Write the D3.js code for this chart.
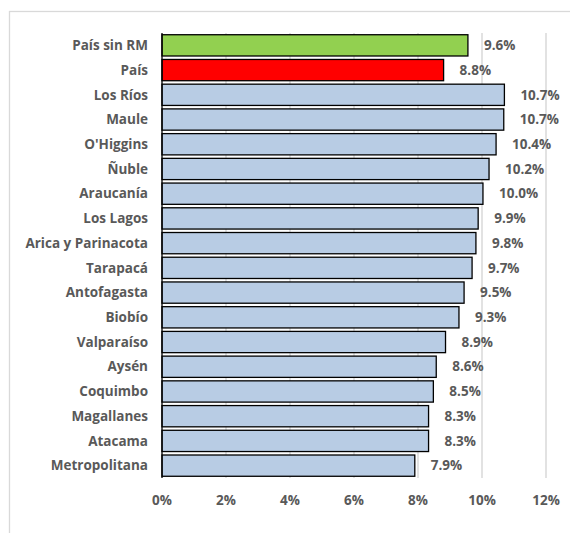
<!DOCTYPE html>
<html><head><meta charset="utf-8">
<script src="https://cdn.jsdelivr.net/npm/d3@7"></script>
<style>html,body{margin:0;padding:0;background:#fff;}svg{display:block;}</style>
</head><body><svg id="c" width="570" height="533"></svg>
<script>
const categories = ["País sin RM","País","Los Ríos","Maule","O'Higgins","Ñuble","Araucanía","Los Lagos","Arica y Parinacota","Tarapacá","Antofagasta","Biobío","Valparaíso","Aysén","Coquimbo","Magallanes","Atacama","Metropolitana"];
const values = [9.56,8.8,10.7,10.68,10.44,10.22,10.03,9.88,9.81,9.69,9.44,9.28,8.86,8.57,8.48,8.33,8.33,7.9];
const valueLabels = ["9.6%","8.8%","10.7%","10.7%","10.4%","10.2%","10.0%","9.9%","9.8%","9.7%","9.5%","9.3%","8.9%","8.6%","8.5%","8.3%","8.3%","7.9%"];
const colors = ["#92d050","#ff0000","#b8cce4","#b8cce4","#b8cce4","#b8cce4","#b8cce4","#b8cce4","#b8cce4","#b8cce4","#b8cce4","#b8cce4","#b8cce4","#b8cce4","#b8cce4","#b8cce4","#b8cce4","#b8cce4"];
const xTicks = [0,2,4,6,8,10,12];

(function(){
const svg = d3.select("#c");
const font = "'Open Sans', sans-serif";
const fs = 13.5;
const textColor = "#595959";
const pL = 162, pR = 546, pT = 33, pB = 478;

svg.append("rect").attr("x",9.5).attr("y",11.5).attr("width",600).attr("height",600)
  .attr("fill","none").attr("stroke","#d9d9d9").attr("stroke-width",1.3);

const x = d3.scaleLinear().domain([0,12]).range([pL,pR]);
const y = d3.scaleBand().domain(categories).range([pT,pB]).paddingInner(0.14).paddingOuter(0.07);

svg.append("g").selectAll("line").data(xTicks.slice(1)).join("line")
  .attr("x1",d=>x(d)).attr("x2",d=>x(d)).attr("y1",pT).attr("y2",pB)
  .attr("stroke","#d9d9d9").attr("stroke-width",1.5);

svg.append("g").selectAll("rect").data(categories).join("rect")
  .attr("x",x(0)).attr("y",d=>y(d))
  .attr("width",(d,i)=>x(values[i])-x(0)).attr("height",y.bandwidth())
  .attr("fill",(d,i)=>colors[i]).attr("stroke","#000").attr("stroke-width",1.3);

svg.append("line").attr("x1",x(0)).attr("x2",x(0)).attr("y1",pT).attr("y2",pB)
  .attr("stroke","#000").attr("stroke-width",1.3);

svg.append("g").selectAll("text").data(categories).join("text")
  .attr("x",(d,i)=>x(values[i])+16).attr("y",d=>y(d)+y.bandwidth()/2)
  .attr("dy","0.35em").attr("font-family",font).attr("font-weight","bold")
  .attr("font-size",fs).attr("fill",textColor).text((d,i)=>valueLabels[i]);

svg.append("g").selectAll("text").data(categories).join("text")
  .attr("x",148).attr("y",d=>y(d)+y.bandwidth()/2)
  .attr("dy","0.35em").attr("text-anchor","end").attr("font-family",font).attr("font-weight","bold")
  .attr("font-size",fs).attr("fill",textColor).text(d=>d);

svg.append("g").selectAll("text").data(xTicks).join("text")
  .attr("x",d=>x(d)).attr("y",500).attr("dy","0.35em").attr("text-anchor","middle")
  .attr("font-family",font).attr("font-weight","bold").attr("font-size",fs).attr("fill",textColor)
  .text(d=>d+"%");
})();
</script></body></html>
